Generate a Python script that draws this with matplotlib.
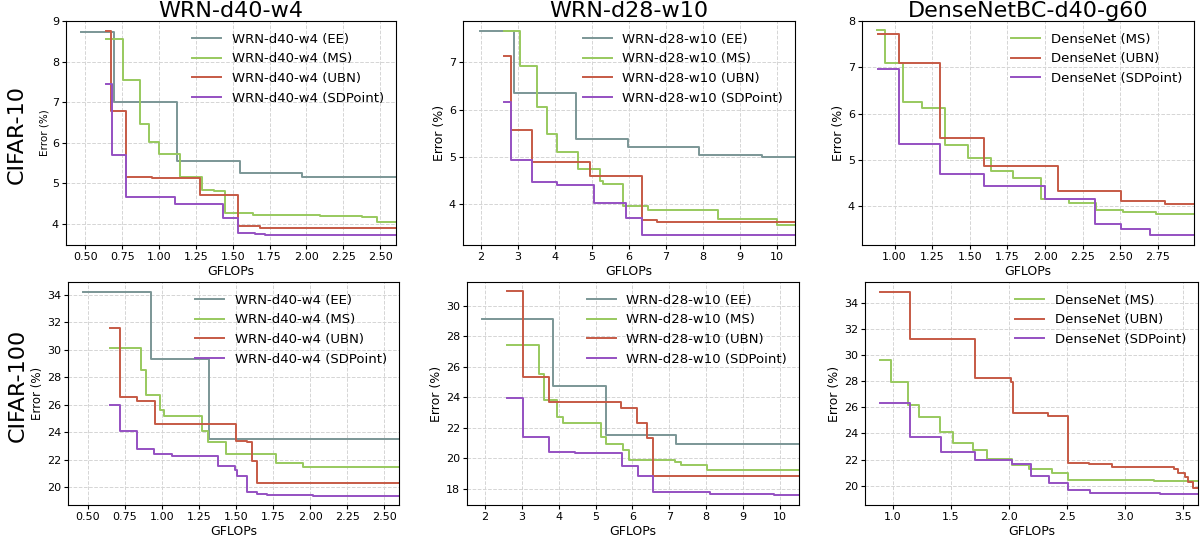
import matplotlib
matplotlib.use("Agg")
import matplotlib.pyplot as plt
import numpy as np

# ---------------- data ----------------
# Panel 1: WRN-d40-w4, CIFAR-10
p1_ee_x = [0.473, 0.692, 1.121, 1.551, 1.969, 2.70]
p1_ee_y = [8.74, 7.00, 5.54, 5.25, 5.15, 5.15]
p1_ms_x = [0.642, 0.753, 0.873, 0.934, 1.002, 1.144, 1.291, 1.37, 1.451, 1.641, 2.09, 2.376, 2.478, 2.70]
p1_ms_y = [8.56, 7.55, 6.46, 6.02, 5.71, 5.15, 4.83, 4.81, 4.26, 4.21, 4.19, 4.17, 4.03, 4.03]
p1_ubn_x = [0.642, 0.676, 0.778, 0.952, 1.28, 1.537, 1.686, 2.70]
p1_ubn_y = [8.76, 6.79, 5.15, 5.12, 4.71, 3.93, 3.90, 3.90]
p1_sdp_x = [0.642, 0.681, 0.778, 1.106, 1.433, 1.535, 1.652, 1.716, 2.70]
p1_sdp_y = [7.44, 5.68, 4.65, 4.48, 4.14, 3.76, 3.74, 3.72, 3.72]

# Panel 2: WRN-d28-w10, CIFAR-10
p2_ee_x = [1.97, 2.90, 4.56, 5.97, 7.90, 9.59, 10.6]
p2_ee_y = [7.65, 6.36, 5.38, 5.20, 5.04, 5.00, 5.00]
p2_ms_x = [2.63, 3.05, 3.53, 3.78, 4.05, 4.63, 5.22, 5.31, 5.83, 6.53, 7.20, 8.40, 10.0, 10.6]
p2_ms_y = [7.66, 6.93, 6.05, 5.48, 5.10, 4.75, 4.49, 4.43, 3.96, 3.88, 3.87, 3.69, 3.56, 3.56]
p2_ubn_x = [2.63, 2.83, 3.39, 4.94, 6.35, 6.75, 10.6]
p2_ubn_y = [7.13, 5.56, 4.90, 4.59, 3.66, 3.62, 3.62]
p2_sdp_x = [2.63, 2.83, 3.39, 4.07, 5.07, 5.92, 6.35, 10.6]
p2_sdp_y = [6.15, 4.93, 4.47, 4.40, 4.02, 3.70, 3.35, 3.35]

# Panel 3: DenseNetBC-d40-g60, CIFAR-10
p3_ms_x = [0.884, 0.936, 1.058, 1.184, 1.333, 1.489, 1.64, 1.789, 1.973, 2.162, 2.336, 2.518, 2.74, 3.05]
p3_ms_y = [7.80, 7.09, 6.26, 6.13, 5.32, 5.03, 4.75, 4.60, 4.15, 4.07, 3.92, 3.88, 3.83, 3.83]
p3_ubn_x = [0.891, 1.029, 1.30, 1.596, 2.084, 2.507, 2.80, 3.05]
p3_ubn_y = [7.71, 7.10, 5.48, 4.87, 4.33, 4.11, 4.05, 4.05]
p3_sdp_x = [0.891, 1.029, 1.30, 1.596, 2.002, 2.333, 2.507, 2.696, 3.05]
p3_sdp_y = [6.96, 5.34, 4.69, 4.43, 4.15, 3.61, 3.50, 3.38, 3.38]

# Panel 4: WRN-d40-w4, CIFAR-100
p4_ee_x = [0.466, 0.928, 1.314, 2.70]
p4_ee_y = [34.2, 29.3, 23.5, 23.5]
p4_ms_x = [0.647, 0.861, 0.89, 0.985, 1.014, 1.273, 1.31, 1.43, 1.77, 1.95, 2.70]
p4_ms_y = [30.15, 28.5, 26.7, 25.65, 25.15, 24.1, 23.3, 22.4, 21.75, 21.45, 21.45]
p4_ubn_x = [0.647, 0.719, 0.834, 0.951, 1.497, 1.571, 1.609, 1.638, 2.70]
p4_ubn_y = [31.6, 26.55, 26.3, 24.6, 23.4, 23.3, 21.9, 20.3, 20.3]
p4_sdp_x = [0.647, 0.719, 0.834, 0.946, 1.064, 1.38, 1.492, 1.508, 1.571, 1.638, 1.706, 2.02, 2.70]
p4_sdp_y = [25.95, 24.1, 22.8, 22.4, 22.3, 21.55, 21.25, 20.8, 19.7, 19.55, 19.45, 19.4, 19.4]

# Panel 5: WRN-d28-w10, CIFAR-100
p5_ee_x = [1.93, 3.84, 5.28, 7.18, 10.6]
p5_ee_y = [29.15, 24.75, 21.5, 20.9, 20.9]
p5_ms_x = [2.60, 3.48, 3.60, 3.97, 4.11, 5.15, 5.29, 5.74, 5.90, 7.16, 7.32, 8.01, 10.6]
p5_ms_y = [27.4, 25.5, 23.8, 22.7, 22.3, 21.4, 20.9, 20.55, 19.85, 19.75, 19.55, 19.2, 19.2]
p5_ubn_x = [2.60, 3.03, 3.73, 5.70, 6.13, 6.39, 6.56, 10.6]
p5_ubn_y = [30.95, 25.35, 23.65, 23.3, 22.3, 21.3, 18.8, 18.8]
p5_sdp_x = [2.60, 3.03, 3.73, 4.45, 5.71, 6.15, 6.55, 8.10, 9.82, 10.18, 10.6]
p5_sdp_y = [23.95, 21.35, 20.4, 20.3, 19.5, 18.8, 17.8, 17.65, 17.6, 17.55, 17.55]

# Panel 6: DenseNetBC-d40-g60, CIFAR-100
p6_ms_x = [0.891, 0.986, 1.126, 1.221, 1.408, 1.514, 1.69, 1.81, 2.026, 2.17, 2.37, 2.506, 3.25, 3.7]
p6_ms_y = [29.6, 27.9, 26.2, 25.25, 24.1, 23.3, 22.75, 22.05, 21.6, 21.25, 20.95, 20.45, 20.4, 20.4]
p6_ubn_x = [0.891, 1.149, 1.71, 2.017, 2.034, 2.336, 2.506, 2.687, 2.888, 3.42, 3.45, 3.51, 3.54, 3.58, 3.7]
p6_ubn_y = [34.85, 31.2, 28.25, 27.9, 25.6, 25.35, 21.75, 21.65, 21.4, 21.3, 21.0, 20.7, 20.3, 19.8, 19.8]
p6_sdp_x = [0.891, 1.149, 1.414, 1.71, 2.026, 2.184, 2.342, 2.509, 2.695, 3.3, 3.7]
p6_sdp_y = [26.35, 23.7, 22.55, 21.95, 21.7, 20.75, 20.25, 19.7, 19.45, 19.4, 19.4]

col_titles = ["WRN-d40-w4", "WRN-d28-w10", "DenseNetBC-d40-g60"]
row_titles = ["CIFAR-10", "CIFAR-100"]
method_names = ["EE", "MS", "UBN", "SDPoint"]
legend_prefix = ["WRN-d40-w4", "WRN-d28-w10", "DenseNet"]

# ---------------- style ----------------
colors = {"EE": "#7b9696", "MS": "#98c95e", "UBN": "#c65a45", "SDPoint": "#9550c2"}
W, H = 1200, 541
fig = plt.figure(figsize=(W / 100, H / 100), dpi=100)

def pos(l, r, t, b):
    return [l / W, 1 - b / H, (r - l) / W, (b - t) / H]

panels = [
    dict(rect=pos(66, 396, 21, 245), xlim=(0.369, 2.608), ylim=(3.47, 9.0),
         xticks=np.arange(0.5, 2.51, 0.25), xfmt="{:.2f}", yticks=[4, 5, 6, 7, 8, 9],
         series={"EE": (p1_ee_x, p1_ee_y), "MS": (p1_ms_x, p1_ms_y),
                 "UBN": (p1_ubn_x, p1_ubn_y), "SDPoint": (p1_sdp_x, p1_sdp_y)},
         col=0, row=0, ylfs=7.5),
    dict(rect=pos(463, 795, 21, 245), xlim=(1.52, 10.49), ylim=(3.14, 7.87),
         xticks=np.arange(2, 11, 1), xfmt="{:.0f}", yticks=[4, 5, 6, 7],
         series={"EE": (p2_ee_x, p2_ee_y), "MS": (p2_ms_x, p2_ms_y),
                 "UBN": (p2_ubn_x, p2_ubn_y), "SDPoint": (p2_sdp_x, p2_sdp_y)},
         col=1, row=0, ylfs=9),
    dict(rect=pos(862, 1194, 21, 245), xlim=(0.784, 2.99), ylim=(3.16, 8.0),
         xticks=np.arange(1.0, 2.76, 0.25), xfmt="{:.2f}", yticks=[4, 5, 6, 7, 8],
         series={"MS": (p3_ms_x, p3_ms_y), "UBN": (p3_ubn_x, p3_ubn_y),
                 "SDPoint": (p3_sdp_x, p3_sdp_y)},
         col=2, row=0, ylfs=9),
    dict(rect=pos(68, 399, 282, 505), xlim=(0.365, 2.60), ylim=(18.72, 34.92),
         xticks=np.arange(0.5, 2.51, 0.25), xfmt="{:.2f}", yticks=np.arange(20, 35, 2),
         series={"EE": (p4_ee_x, p4_ee_y), "MS": (p4_ms_x, p4_ms_y),
                 "UBN": (p4_ubn_x, p4_ubn_y), "SDPoint": (p4_sdp_x, p4_sdp_y)},
         col=0, row=1, ylfs=8.5),
    dict(rect=pos(467, 799, 282, 505), xlim=(1.52, 10.51), ylim=(16.92, 31.55),
         xticks=np.arange(2, 11, 1), xfmt="{:.0f}", yticks=np.arange(18, 31, 2),
         series={"EE": (p5_ee_x, p5_ee_y), "MS": (p5_ms_x, p5_ms_y),
                 "UBN": (p5_ubn_x, p5_ubn_y), "SDPoint": (p5_sdp_x, p5_sdp_y)},
         col=1, row=1, ylfs=9),
    dict(rect=pos(865, 1198, 282, 505), xlim=(0.76, 3.625), ylim=(18.53, 35.58),
         xticks=np.arange(1.0, 3.51, 0.5), xfmt="{:.1f}", yticks=np.arange(20, 35, 2),
         series={"MS": (p6_ms_x, p6_ms_y), "UBN": (p6_ubn_x, p6_ubn_y),
                 "SDPoint": (p6_sdp_x, p6_sdp_y)},
         col=2, row=1, ylfs=9),
]

for p in panels:
    ax = fig.add_axes(p["rect"])
    for name in method_names:
        if name not in p["series"]:
            continue
        xs, ys = p["series"][name]
        ax.step(xs, ys, where="post", color=colors[name], lw=1.4,
                label=f"{legend_prefix[p['col']]} ({name})")
    ax.set_xlim(*p["xlim"])
    ax.set_ylim(*p["ylim"])
    ax.set_xticks(p["xticks"])
    ax.set_xticklabels([p["xfmt"].format(v) for v in p["xticks"]])
    ax.set_yticks(p["yticks"])
    ax.tick_params(labelsize=8, length=3, pad=2)
    ax.grid(True, linestyle="--", color="#d5d5d5", linewidth=0.7)
    ax.set_axisbelow(True)
    ax.set_xlabel("GFLOPs", fontsize=9, labelpad=2)
    ax.set_ylabel("Error (%)", fontsize=p["ylfs"], labelpad=2)
    ax.legend(loc="upper right", frameon=False, fontsize=9.5, handlelength=2.2)
    if p["row"] == 0:
        ax.set_title(col_titles[p["col"]], fontsize=16, pad=1)

fig.text(17 / W, 1 - 135 / H, row_titles[0], rotation=90, fontsize=16, ha="center", va="center")
fig.text(18 / W, 1 - 385 / H, row_titles[1], rotation=90, fontsize=16, ha="center", va="center")

fig.savefig("out.png", dpi=100)
